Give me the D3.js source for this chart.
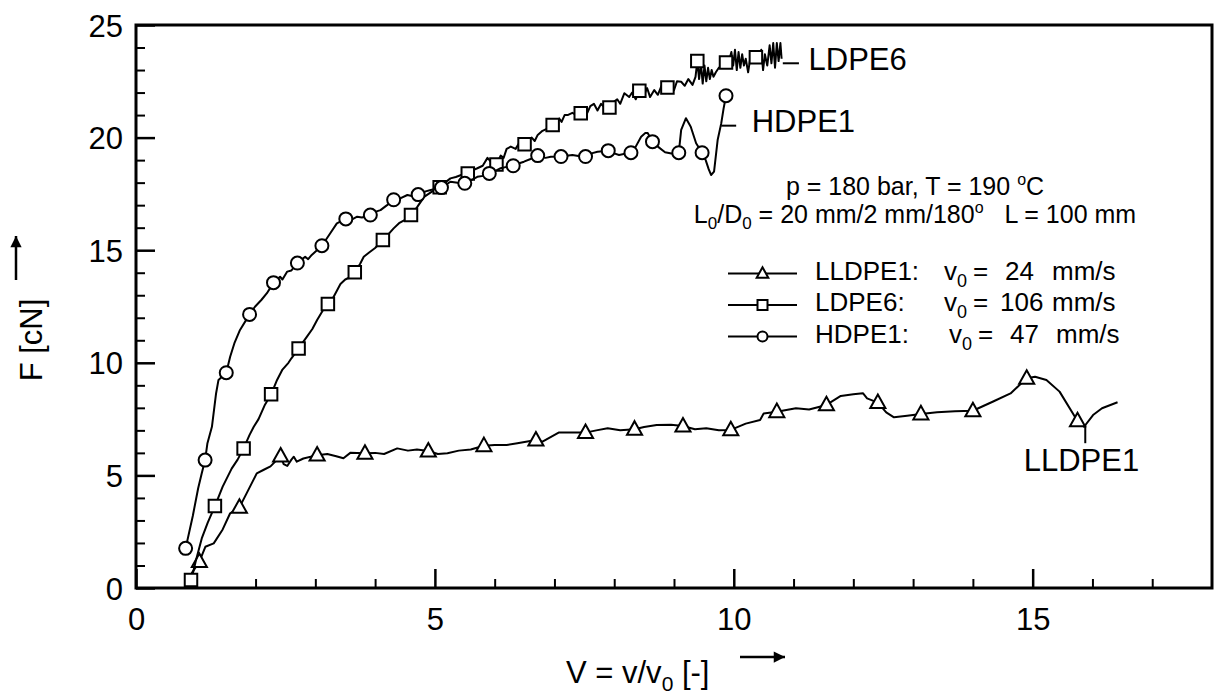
<!DOCTYPE html>
<html>
<head>
<meta charset="utf-8">
<title>F vs V</title>
<style>
  body { margin: 0; background: #fff; }
  svg text { font-family: "Liberation Sans", Arial, sans-serif; fill: #000; }
  .axis path { display: none; }
  .axis line { stroke: #000; }
  .curve { fill: none; stroke: #000; stroke-width: 2px; stroke-linejoin: round; }
  .mark { fill: #fff; stroke: #000; stroke-width: 2px; }
</style>
<script src="https://cdnjs.cloudflare.com/ajax/libs/d3/7.8.5/d3.min.js"></script>
</head>
<body>
<script>
// ---- data: [V, F] ----
var lldpe1Line = [[0.93,0.65],[1.06,1.17],[1.16,1.83],[1.30,1.98],[1.45,2.6],[1.575,3.32],[1.73,3.58],[1.85,4.2],[2.02,5.09],[2.13,5.24],[2.25,5.4],[2.42,5.86],[2.47,5.5],[2.53,5.42],[2.6,5.7],[2.64,5.83],[2.69,5.61],[2.8,5.75],[3.03,5.9],[3.2,5.95],[3.35,5.85],[3.47,5.76],[3.59,6.01],[3.7,6.0],[3.83,5.98],[4.0,6.0],[4.15,5.95],[4.37,6.2],[4.55,6.1],[4.7,6.15],[4.89,6.08],[5.05,5.95],[5.21,5.98],[5.4,6.1],[5.6,6.15],[5.82,6.32],[6.0,6.35],[6.2,6.35],[6.38,6.43],[6.69,6.57],[6.8,6.5],[7.07,6.9],[7.3,6.9],[7.52,6.9],[7.7,7.0],[7.89,7.09],[8.1,7.0],[8.34,7.05],[8.5,7.15],[8.71,7.24],[8.95,7.25],[9.15,7.19],[9.35,7.05],[9.54,7.09],[9.75,7.0],[9.95,7.02],[10.2,7.3],[10.44,7.46],[10.5,7.75],[10.72,7.83],[11.04,7.98],[11.26,7.93],[11.55,8.13],[11.79,8.53],[12.0,8.6],[12.16,8.65],[12.23,8.42],[12.41,8.23],[12.55,7.8],[12.68,7.58],[12.9,7.65],[13.13,7.73],[13.4,7.8],[13.7,7.85],[14.0,7.87],[14.33,8.27],[14.63,8.64],[14.9,9.31],[15.04,9.38],[15.23,9.24],[15.45,8.72],[15.75,7.42],[15.86,7.16],[16.01,7.68],[16.16,7.98],[16.42,8.25]];
var lldpe1Marks = [[1.06,1.17],[1.73,3.58],[2.42,5.86],[3.03,5.9],[3.83,5.98],[4.89,6.08],[5.82,6.32],[6.69,6.57],[7.52,6.9],[8.34,7.05],[9.15,7.19],[9.95,7.02],[10.72,7.83],[11.55,8.13],[12.41,8.23],[13.13,7.73],[14.0,7.87],[14.9,9.31],[15.75,7.42]];

var ldpe6Line = [[0.92,0.3],[1.0,1.2],[1.1,2.2],[1.2,2.9],[1.32,3.64],[1.45,4.5],[1.6,5.3],[1.7,5.7],[1.80,6.2],[1.9,6.8],[1.97,7.16],[2.05,7.5],[2.15,8.1],[2.26,8.6],[2.36,9.24],[2.45,9.7],[2.55,10.0],[2.6,10.2],[2.72,10.64],[2.86,11.16],[2.95,11.5],[3.03,11.9],[3.12,12.3],[3.21,12.61],[3.3,12.9],[3.42,13.5],[3.5,13.7],[3.58,13.8],[3.66,14.02],[3.75,14.4],[3.81,14.71],[3.9,14.9],[4.0,15.1],[4.13,15.45],[4.22,15.7],[4.31,15.97],[4.4,16.2],[4.5,16.35],[4.60,16.56],[4.7,16.9],[4.82,17.37],[4.95,17.6],[5.08,17.79],[5.17,18.0],[5.26,18.19],[5.35,18.25],[5.45,18.35],[5.55,18.41],[5.63,18.55],[5.71,18.64],[5.8,18.75],[5.88,19.1],[5.93,18.95],[6.03,18.81],[6.1,19.2],[6.15,19.1],[6.2,19.5],[6.27,19.6],[6.35,19.5],[6.42,19.8],[6.50,19.7],[6.57,19.9],[6.62,20.0],[6.67,19.85],[6.72,20.12],[6.8,20.3],[6.88,20.4],[6.97,20.56],[7.03,20.6],[7.08,20.85],[7.12,20.7],[7.17,21.0],[7.22,21.0],[7.3,21.1],[7.37,21.0],[7.44,21.08],[7.5,21.2],[7.55,21.1],[7.6,21.4],[7.66,21.5],[7.72,21.2],[7.78,21.5],[7.85,21.3],[7.92,21.34],[8.0,21.6],[8.05,21.7],[8.1,21.5],[8.17,21.97],[8.25,21.8],[8.3,22.0],[8.36,21.7],[8.42,22.08],[8.5,21.9],[8.55,22.2],[8.6,21.8],[8.67,22.11],[8.73,21.9],[8.79,22.3],[8.84,22.0],[8.89,22.23],[8.95,22.3],[9.0,22.1],[9.05,22.5],[9.12,22.48],[9.18,22.3],[9.24,22.6],[9.31,22.34],[9.36,22.7],[9.39,23.4],[9.42,22.6],[9.45,23.3],[9.48,22.4],[9.51,23.2],[9.54,22.5],[9.57,23.1],[9.6,22.6],[9.63,23.0],[9.66,22.7],[9.7,22.9],[9.75,23.1],[9.8,23.2],[9.87,23.33],[9.92,23.4],[9.96,23.8],[9.99,23.2],[10.02,23.9],[10.05,23.0],[10.08,23.8],[10.11,23.1],[10.14,23.7],[10.17,23.2],[10.2,23.5],[10.24,22.9],[10.28,23.6],[10.32,23.5],[10.37,23.57],[10.42,23.4],[10.46,23.9],[10.49,23.0],[10.52,23.7],[10.56,23.2],[10.6,24.1],[10.63,23.3],[10.66,24.2],[10.69,23.1],[10.72,24.2],[10.75,23.4],[10.78,24.2],[10.8,23.5]];
var ldpe6Marks = [[0.92,0.36],[1.32,3.64],[1.80,6.2],[2.26,8.6],[2.72,10.64],[3.21,12.61],[3.66,14.02],[4.13,15.45],[4.60,16.56],[5.08,17.79],[5.55,18.41],[6.03,18.81],[6.50,19.7],[6.97,20.56],[7.44,21.08],[7.92,21.34],[8.42,22.08],[8.89,22.23],[9.39,23.4],[9.87,23.33],[10.37,23.57]];

var hdpe1Line = [[0.83,1.76],[0.95,3.2],[1.04,4.43],[1.1,5.1],[1.156,5.68],[1.195,6.43],[1.27,7.16],[1.34,8.65],[1.38,9.24],[1.51,9.56],[1.575,10.27],[1.65,10.9],[1.74,11.46],[1.90,12.15],[1.99,12.49],[2.1,12.8],[2.19,13.09],[2.30,13.56],[2.41,13.82],[2.45,13.7],[2.53,14.05],[2.6,14.1],[2.70,14.43],[2.83,14.71],[2.88,14.6],[2.94,14.79],[3.11,15.2],[3.25,15.75],[3.36,16.19],[3.51,16.39],[3.6,16.35],[3.70,16.49],[3.78,16.45],[3.92,16.56],[4.0,16.7],[4.09,16.78],[4.2,17.0],[4.31,17.24],[4.42,17.3],[4.54,17.45],[4.63,17.4],[4.72,17.47],[4.83,17.6],[4.93,17.67],[5.11,17.78],[5.26,18.04],[5.38,18.0],[5.50,17.97],[5.6,18.1],[5.71,18.26],[5.81,18.3],[5.91,18.41],[6.0,18.5],[6.10,18.64],[6.2,18.7],[6.31,18.75],[6.4,18.85],[6.49,18.93],[6.6,19.05],[6.72,19.2],[6.85,19.1],[6.94,19.15],[7.11,19.16],[7.3,19.23],[7.4,19.18],[7.52,19.16],[7.62,19.3],[7.72,19.37],[7.90,19.42],[8.0,19.3],[8.08,19.23],[8.18,19.28],[8.28,19.33],[8.36,19.6],[8.45,20.04],[8.52,20.2],[8.56,20.2],[8.64,19.82],[8.73,19.6],[8.85,19.35],[9.0,19.27],[9.08,19.33],[9.12,20.34],[9.20,20.86],[9.28,20.48],[9.37,19.75],[9.47,19.33],[9.53,19.0],[9.58,18.6],[9.62,18.34],[9.67,18.49],[9.73,19.89],[9.79,20.63],[9.83,21.3],[9.87,21.86]];
var hdpe1Marks = [[0.83,1.76],[1.156,5.68],[1.51,9.56],[1.90,12.15],[2.30,13.56],[2.70,14.43],[3.11,15.2],[3.51,16.39],[3.92,16.56],[4.31,17.24],[4.72,17.47],[5.11,17.78],[5.50,17.97],[5.91,18.41],[6.31,18.75],[6.72,19.2],[7.11,19.16],[7.52,19.16],[7.90,19.42],[8.28,19.33],[8.64,19.82],[9.08,19.33],[9.47,19.33],[9.87,21.86]];

var xMajor = [0, 5, 10, 15];
var xMinor = [1,2,3,4,6,7,8,9,11,12,13,14,16,17];
var yMajor = [0, 5, 10, 15, 20, 25];
var yMinor = [1,2,3,4,6,7,8,9,11,12,13,14,16,17,18,19,21,22,23,24];

var legendNames = ["LLDPE1:", "LDPE6:", "HDPE1:"];
var legendV0 = ["24", "106", "47"];
var legendShapes = ["triangle", "square", "circle"];

// curve labels: name, leader line [[V,F],[V,F]], text anchor point [V,F]
var curveLabels = [
  {name: "LDPE6", lead: [[10.82, 23.3], [11.09, 23.3]], at: [11.25, 23.0]},
  {name: "HDPE1", lead: [[9.79, 20.53], [10.04, 20.53]], at: [10.3, 20.25]},
  {name: "LLDPE1", lead: [[15.88, 7.24], [15.88, 6.43]], at: [14.85, 5.2]}
];

var margin = {top: 25, right: 3, bottom: 110, left: 136},
    W = 1215, H = 698,
    width = W - margin.left - margin.right,
    height = H - margin.top - margin.bottom;

var x = d3.scaleLinear().domain([0, 18]).range([0, width]);
var y = d3.scaleLinear().domain([0, 25]).range([height, 0]);

var svg = d3.select("body").append("svg")
    .attr("width", W)
    .attr("height", H);
var g = svg.append("g")
    .attr("transform", "translate(" + margin.left + "," + margin.top + ")");

// ticks (inward)
g.append("g").attr("class", "axis")
    .attr("transform", "translate(0," + height + ")")
    .call(d3.axisBottom(x).tickValues(xMinor).tickSize(-9).tickFormat(""))
    .selectAll("line").attr("stroke-width", 2);
var xa = g.append("g").attr("class", "axis")
    .attr("transform", "translate(0," + height + ")")
    .call(d3.axisBottom(x).tickValues(xMajor).tickSize(-19).tickPadding(14));
xa.selectAll("line").attr("stroke-width", 2.5);
xa.selectAll("text").attr("font-size", 31).attr("dy", "0.9em");

g.append("g").attr("class", "axis")
    .call(d3.axisLeft(y).tickValues(yMinor).tickSize(-9).tickFormat(""))
    .selectAll("line").attr("stroke-width", 2);
var ya = g.append("g").attr("class", "axis")
    .call(d3.axisLeft(y).tickValues(yMajor).tickSize(-19).tickPadding(13));
ya.selectAll("line").attr("stroke-width", 2.5);
ya.selectAll("text").attr("font-size", 31).attr("dy", "0.36em");

g.append("rect")
    .attr("width", width).attr("height", height)
    .attr("fill", "none").attr("stroke", "#000").attr("stroke-width", 3);

// curves
var line = d3.line()
    .x(function(d) { return x(d[0]); })
    .y(function(d) { return y(d[1]); });

function symbolPath(shape, s) {
  if (shape === "triangle") return "M0," + (-s * 0.62) + "L" + (s * 0.58) + "," + (s * 0.42) + "L" + (-s * 0.58) + "," + (s * 0.42) + "Z";
  if (shape === "square") return "M" + (-s / 2) + "," + (-s / 2) + "h" + s + "v" + s + "h" + (-s) + "Z";
  var r = s / 2;
  return "M" + (-r) + ",0a" + r + "," + r + " 0 1,0 " + (2 * r) + ",0a" + r + "," + r + " 0 1,0 " + (-2 * r) + ",0Z";
}

var series = [
  {line: lldpe1Line, marks: lldpe1Marks, shape: "triangle", size: 13},
  {line: ldpe6Line, marks: ldpe6Marks, shape: "square", size: 12.5},
  {line: hdpe1Line, marks: hdpe1Marks, shape: "circle", size: 13}
];

series.forEach(function(s) {
  g.append("path").datum(s.line).attr("class", "curve").attr("d", line);
  g.selectAll(null).data(s.marks).enter().append("path")
      .attr("class", "mark")
      .attr("transform", function(d) { return "translate(" + x(d[0]) + "," + y(d[1]) + ")"; })
      .attr("d", symbolPath(s.shape, s.size));
});

// curve labels
curveLabels.forEach(function(c) {
  g.append("path").datum(c.lead).attr("class", "curve").attr("d", line);
  g.append("text")
      .attr("x", x(c.at[0])).attr("y", y(c.at[1]))
      .attr("font-size", 31)
      .text(c.name);
});

// condition notes
var note = g.append("g").attr("font-size", 25).attr("text-anchor", "middle");
var n1 = note.append("text").attr("x", 779).attr("y", 170);
n1.append("tspan").text("p = 180 bar, T = 190 ");
n1.append("tspan").attr("font-size", 16).attr("dy", -10).text("o");
n1.append("tspan").attr("dy", 10).text("C");
var n2 = note.append("text").attr("x", 779).attr("y", 198);
n2.append("tspan").text("L");
n2.append("tspan").attr("font-size", 17).attr("dy", 6).text("0");
n2.append("tspan").attr("dy", -6).text("/D");
n2.append("tspan").attr("font-size", 17).attr("dy", 6).text("0");
n2.append("tspan").attr("dy", -6).text(" = 20 mm/2 mm/180");
n2.append("tspan").attr("font-size", 16).attr("dy", -10).text("o");
n2.append("tspan").attr("dy", 10).attr("xml:space", "preserve").text("   L = 100 mm");

// legend (x positions in plot coordinates)
var legend = g.append("g").attr("font-size", 26);
var rowY = [248.5, 280, 311.5];
var vx = [808, 808, 813];
var eqX = [837, 837, 842];
var numX = [869, 864, 874];
var unitX = [916, 916, 920];
legendNames.forEach(function(name, i) {
  var ry = rowY[i];
  legend.append("line")
      .attr("x1", 592).attr("x2", 661).attr("y1", ry).attr("y2", ry)
      .attr("stroke", "#000").attr("stroke-width", 2);
  legend.append("path").attr("class", "mark")
      .attr("transform", "translate(626.5," + ry + ")")
      .attr("d", symbolPath(legendShapes[i], 10));
  var t = legend.append("text").attr("y", ry + 6);
  t.append("tspan").attr("x", 679).text(name);
  t.append("tspan").attr("x", vx[i]).text("v");
  t.append("tspan").attr("font-size", 18).attr("dy", 7).text("0");
  t.append("tspan").attr("x", eqX[i]).attr("dy", -7).text("=");
  t.append("tspan").attr("x", numX[i]).text(legendV0[i]);
  t.append("tspan").attr("x", unitX[i]).text("mm/s");
});

// axis titles
var xt = svg.append("text").attr("font-size", 31).attr("x", 566).attr("y", 683);
xt.append("tspan").text("V = v/v");
xt.append("tspan").attr("font-size", 21).attr("dy", 8).text("0");
xt.append("tspan").attr("dy", -8).text(" [-]");

svg.append("defs").append("marker")
    .attr("id", "ah").attr("viewBox", "0 0 10 10")
    .attr("refX", 10).attr("refY", 5)
    .attr("markerWidth", 5).attr("markerHeight", 4.5)
    .attr("markerUnits", "strokeWidth")
    .attr("orient", "auto")
  .append("path").attr("d", "M0,0L10,5L0,10Z").attr("fill", "#000");

svg.append("line")
    .attr("x1", 740).attr("x2", 785).attr("y1", 657).attr("y2", 657)
    .attr("stroke", "#000").attr("stroke-width", 2.5)
    .attr("marker-end", "url(#ah)");

svg.append("text")
    .attr("font-size", 31)
    .attr("text-anchor", "middle")
    .attr("transform", "translate(42,340) rotate(-90)")
    .text("F [cN]");

svg.append("line")
    .attr("x1", 16).attr("x2", 16).attr("y1", 280).attr("y2", 236)
    .attr("stroke", "#000").attr("stroke-width", 2.5)
    .attr("marker-end", "url(#ah)");
</script>
</body>
</html>
